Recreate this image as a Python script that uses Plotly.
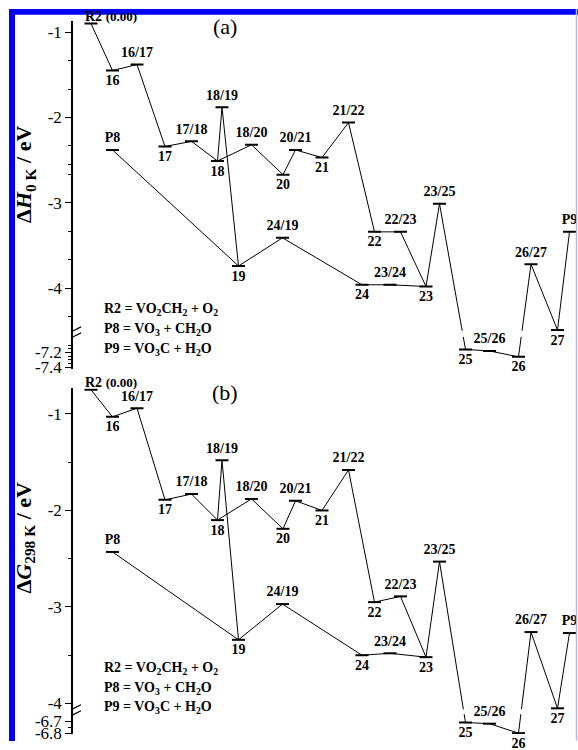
import plotly.graph_objects as go

# ---------------------------------------------------------------------------
# Stationary points on the VO2CH2 + O2 surface
# ---------------------------------------------------------------------------
SPECIES = ["R2", "16", "16/17", "17", "17/18", "18", "18/19", "19", "18/20",
           "20", "20/21", "21", "21/22", "22", "22/23", "23", "23/25", "25",
           "25/26", "26", "26/27", "27", "P9", "P8", "24/19", "24", "23/24"]

# position along the reaction coordinate (arbitrary units)
REACTION_COORD = [1.8, 3.95, 6.4, 9.2, 11.85, 14.45, 14.9, 16.55, 17.85,
                  21.0, 22.25, 24.9, 27.55, 30.15, 32.75, 35.3, 36.65, 39.25,
                  41.65, 44.55, 45.8, 48.45, 49.65, 3.95, 20.95, 28.9, 31.7]

# relative enthalpies at 0 K (eV)
DH_0K = [0.00, -1.45, -1.38, -2.34, -2.28, -2.51, -1.88, -3.74, -2.32,
         -2.67, -2.38, -2.47, -2.06, -3.34, -3.34, -3.98, -3.01, -7.16,
         -7.18, -7.26, -3.72, -4.49, -3.34, -2.38, -3.41, -3.96, -3.96]

# relative Gibbs energies at 298 K (eV)
DG_298K = [0.00, -1.03, -0.94, -1.89, -1.83, -2.10, -1.48, -3.34, -1.88,
           -2.19, -1.90, -2.00, -1.58, -2.95, -2.89, -3.52, -2.53, -6.71,
           -6.72, -6.80, -3.26, -4.05, -3.27, -2.43, -2.97, -3.50, -3.48]

# connectivity of the reaction network
PATHS = [
    ["R2", "16", "16/17", "17", "17/18", "18", "18/19", "19"],
    ["18", "18/20", "20", "20/21", "21", "21/22", "22", "22/23", "23",
     "23/25", "25", "25/26", "26", "26/27", "27", "P9"],
    ["P8", "19", "24/19", "24", "23/24", "23"],
]

LEGEND_LINES = [
    "<b>R2 = VO<sub>2</sub>CH<sub>2</sub> + O<sub>2</sub></b>",
    "<b>P8 = VO<sub>3</sub> + CH<sub>2</sub>O</b>",
    "<b>P9 = VO<sub>3</sub>C + H<sub>2</sub>O</b>",
]

# broken-axis tick marks
TICKS_A = [-1, -2, -3, -4, -7.2, -7.4]
TICKS_B = [-1, -2, -3, -4, -6.7, -6.8]
MINOR_A = [-(n + k / 3) for n in range(1, 5) for k in (1, 2)] + [-7.1, -7.15, -7.25, -7.3, -7.35]
MINOR_B = [-1.5, -2.5, -3.5, -6.75]

SERIF = "Liberation Serif"
W, H = 578, 750
X_AXIS = 73            # pixel column of the y axis line
X_RANGE = [0, (W - X_AXIS) / 10]
HALF_W = 0.65          # half length of each level bar


def make_map(top, hi, lo, gap, scale):
    """Piecewise map for an axis with a break between `hi` and `lo`.
    Values above the axis top (the R2 reference) sit on the top edge."""
    def f(v):
        v = min(v, top)
        if v >= hi:
            return v
        return hi - gap - (lo - v) * scale
    f.hi, f.gap = hi, gap
    return f


MAP_A = make_map(top=-0.9, hi=-4.5, lo=-6.99, gap=0.07, scale=0.868)
MAP_B = make_map(top=-0.75, hi=-4.06, lo=-6.64, gap=0.051, scale=1.228)

pos = dict(zip(SPECIES, REACTION_COORD))


def path_xy(names, energy, f):
    xs, ys = [], []
    hi, lo_edge = f.hi, f.hi - f.gap
    prev = None
    for n in names:
        x, u = pos[n], f(energy[n])
        if prev is not None:
            x0, u0 = prev
            if (u0 > hi and u < lo_edge) or (u0 < lo_edge and u > hi):
                order = (hi, lo_edge) if u0 > u else (lo_edge, hi)
                for j, uc in enumerate(order):
                    t = (uc - u0) / (u - u0)
                    xs.append(x0 + t * (x - x0))
                    ys.append(uc)
                    if j == 0:
                        xs.append(None)
                        ys.append(None)
        xs.append(x)
        ys.append(u)
        prev = (x, u)
    xs.append(None)
    ys.append(None)
    return xs, ys


fig = go.Figure()

panels = [
    dict(values=DH_0K, f=MAP_A, xa="x", ya="y", ticks=TICKS_A, minor=MINOR_A,
         dom=[1 - 373 / H, 1 - 21.7 / H], rng=[-4.941, -0.875],
         tag="(a)", tag_y=27, title="<b>Δ<i>H</i><sub>0 K</sub> / eV</b>", title_y=176,
         legend_y=[313, 334, 354]),
    dict(values=DG_298K, f=MAP_B, xa="x2", ya="y2", ticks=TICKS_B, minor=MINOR_B,
         dom=[1 - 743 / H, 1 - 393 / H], rng=[-4.317, -0.734],
         tag="(b)", tag_y=397, title="<b>Δ<i>G</i><sub>298 K</sub> / eV</b>", title_y=545,
         legend_y=[677, 697, 716]),
]

shapes = []
annotations = []

for p in panels:
    energy = dict(zip(SPECIES, p["values"]))
    f = p["f"]

    # connecting lines
    lx, ly = [], []
    for path in PATHS:
        a, b = path_xy(path, energy, f)
        lx += a
        ly += b
    fig.add_trace(go.Scatter(x=lx, y=ly, mode="lines", xaxis=p["xa"], yaxis=p["ya"],
                             line=dict(color="black", width=1), hoverinfo="skip",
                             showlegend=False))

    # level bars
    bx, by = [], []
    for n in SPECIES:
        u = f(energy[n])
        bx += [pos[n] - HALF_W, pos[n] + HALF_W, None]
        by += [u, u, None]
    fig.add_trace(go.Scatter(x=bx, y=by, mode="lines", xaxis=p["xa"], yaxis=p["ya"],
                             line=dict(color="black", width=2), hoverinfo="skip",
                             showlegend=False))

    # labels: minima below, saddle points and products above
    above = [n for n in SPECIES if ("/" in n or n.startswith("P"))]
    below = [n for n in SPECIES if n not in above and n != "R2"]
    for names, tp in ((above, "top center"), (below, "bottom center")):
        fig.add_trace(go.Scatter(
            x=[pos[n] for n in names], y=[f(energy[n]) for n in names],
            text=names, mode="markers+text", textposition=tp, cliponaxis=False,
            marker=dict(size=5, opacity=0),
            textfont=dict(family=SERIF, size=14, color="black", weight="bold"),
            xaxis=p["xa"], yaxis=p["ya"], hoverinfo="skip", showlegend=False))

    # reference level label
    annotations.append(dict(
        x=pos["R2"], y=f(energy["R2"]), xref=p["xa"], yref=p["ya"],
        text="<b>R2 <span style='font-size:13px'>(%.2f)</span></b>" % energy["R2"],
        showarrow=False, xanchor="left", yanchor="bottom", xshift=-8, yshift=-2,
        font=dict(family=SERIF, size=14, color="black")))

    # panel tag, axis title and key
    annotations.append(dict(x=225 / W, y=1 - p["tag_y"] / H, xref="paper", yref="paper",
                            text=p["tag"], showarrow=False, xanchor="center", yanchor="middle",
                            font=dict(family=SERIF, size=22, color="black")))
    annotations.append(dict(x=25 / W, y=1 - p["title_y"] / H, xref="paper", yref="paper",
                            text=p["title"], textangle=-90, showarrow=False,
                            xanchor="center", yanchor="middle",
                            font=dict(family=SERIF, size=22, color="black")))
    for txt, yy in zip(LEGEND_LINES, p["legend_y"]):
        annotations.append(dict(x=102 / W, y=1 - yy / H, xref="paper", yref="paper",
                                text=txt, showarrow=False, xanchor="left", yanchor="middle",
                                font=dict(family=SERIF, size=14, color="black")))

    # axis break marks
    yc = f.hi - f.gap / 2
    common = dict(xref=p["xa"], yref=p["ya"], xsizemode="pixel", ysizemode="pixel",
                  xanchor=X_RANGE[0], yanchor=yc, layer="above")
    shapes.append(dict(type="rect", x0=-3, x1=3, y0=-3, y1=3,
                       fillcolor="white", line=dict(width=0), **common))
    for off in (3, -3):
        shapes.append(dict(type="line", x0=-8, x1=8, y0=off - 4, y1=off + 4,
                           line=dict(color="black", width=1.2), **common))

    axis_name = "yaxis" if p["ya"] == "y" else "yaxis2"
    xaxis_name = "xaxis" if p["xa"] == "x" else "xaxis2"
    fig.update_layout({
        axis_name: dict(
            domain=p["dom"], range=p["rng"], anchor=p["xa"],
            tickmode="array", tickvals=[f(v) for v in p["ticks"]],
            ticktext=["%g" % v for v in p["ticks"]],
            minor=dict(tickmode="array", tickvals=[f(v) for v in p["minor"]],
                       ticks="outside", ticklen=3, tickcolor="black", tickwidth=1),
            ticks="outside", ticklen=6, tickwidth=1.2, tickcolor="black",
            showline=True, linecolor="black", linewidth=1.5,
            showgrid=False, zeroline=False, fixedrange=True,
            tickfont=dict(family=SERIF, size=17, color="black")),
        xaxis_name: dict(domain=[X_AXIS / W, 1], range=X_RANGE, anchor=p["ya"],
                         visible=False, fixedrange=True),
    })

# page frame
shapes += [
    dict(type="rect", xref="paper", yref="paper", x0=9 / W, x1=15 / W, y0=0, y1=1 - 9 / H,
         fillcolor="#0000FF", line=dict(width=0), layer="above"),
    dict(type="rect", xref="paper", yref="paper", x0=9 / W, x1=1, y0=1 - 15 / H, y1=1 - 9 / H,
         fillcolor="#0000FF", line=dict(width=0), layer="above"),
    dict(type="line", xref="paper", yref="paper", x0=576.5 / W, x1=576.5 / W, y0=0, y1=1 - 9 / H,
         line=dict(color="#B8B8F0", width=1.5), layer="above"),
]

fig.update_layout(
    width=W, height=H, margin=dict(l=0, r=0, t=0, b=0),
    paper_bgcolor="white", plot_bgcolor="white",
    shapes=shapes, annotations=annotations, showlegend=False,
)

fig.write_html("out.html", config={"displayModeBar": False})
